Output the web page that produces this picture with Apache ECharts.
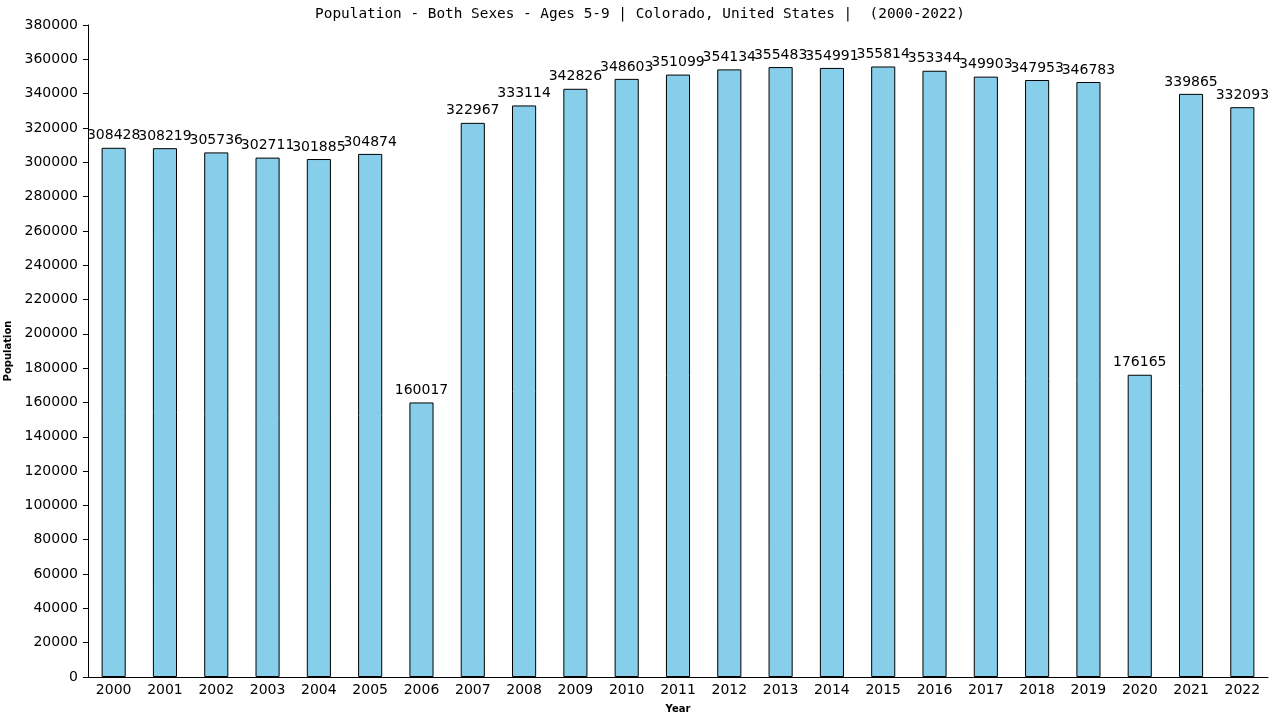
<!DOCTYPE html>
<html><head><meta charset="utf-8">
<script src="https://cdn.jsdelivr.net/npm/echarts@6/dist/echarts.min.js"></script>
<style>html,body{margin:0;padding:0;background:#fff}#c{width:1280px;height:720px}</style>
</head><body><div id="c"></div>
<script>
const categories = ['2000','2001','2002','2003','2004','2005','2006','2007','2008','2009','2010','2011','2012','2013','2014','2015','2016','2017','2018','2019','2020','2021','2022'];
const values = [308428,308219,305736,302711,301885,304874,160017,322967,333114,342826,348603,351099,354134,355483,354991,355814,353344,349903,347953,346783,176165,339865,332093];
const titleText = 'Population - Both Sexes - Ages 5-9 | Colorado, United States |  (2000-2022)';
const chart = echarts.init(document.getElementById('c'));
chart.setOption({
  animation: false,
  title: {text: titleText, left: 'center', top: 2, textStyle: {fontFamily: 'DejaVu Sans Mono', fontSize: 14.4, fontWeight: 'normal', color: '#000'}},
  grid: {left: 88, right: 12, top: 25, bottom: 43, containLabel: false, outerBoundsMode: 'none'},
  xAxis: {type: 'category', data: categories, name: 'Year', nameLocation: 'middle', nameGap: 27,
    nameTextStyle: {fontFamily: 'DejaVu Sans', fontSize: 10, fontWeight: 'bold', color: '#000'},
    axisLine: {lineStyle: {color: '#000'}}, axisTick: {show: false},
    axisLabel: {fontFamily: 'DejaVu Sans', fontSize: 14, color: '#000', margin: 6}},
  yAxis: {type: 'value', min: 0, max: 380000, interval: 20000, name: 'Population', nameLocation: 'middle', nameGap: 70,
    nameTextStyle: {fontFamily: 'DejaVu Sans', fontSize: 10, fontWeight: 'bold', color: '#000'},
    axisLine: {show: true, lineStyle: {color: '#000'}}, axisTick: {show: true, length: 5, lineStyle: {color: '#000'}},
    splitLine: {show: false},
    axisLabel: {fontFamily: 'DejaVu Sans', fontSize: 14, color: '#000', margin: 10, formatter: v => String(v)}},
  series: [{type: 'bar', data: values, barWidth: '47%',
    itemStyle: {color: '#87ceeb', borderColor: '#000', borderWidth: 1},
    label: {show: true, position: 'top', distance: 5, fontFamily: 'DejaVu Sans', fontSize: 14, color: '#000'}}]
});
</script></body></html>
